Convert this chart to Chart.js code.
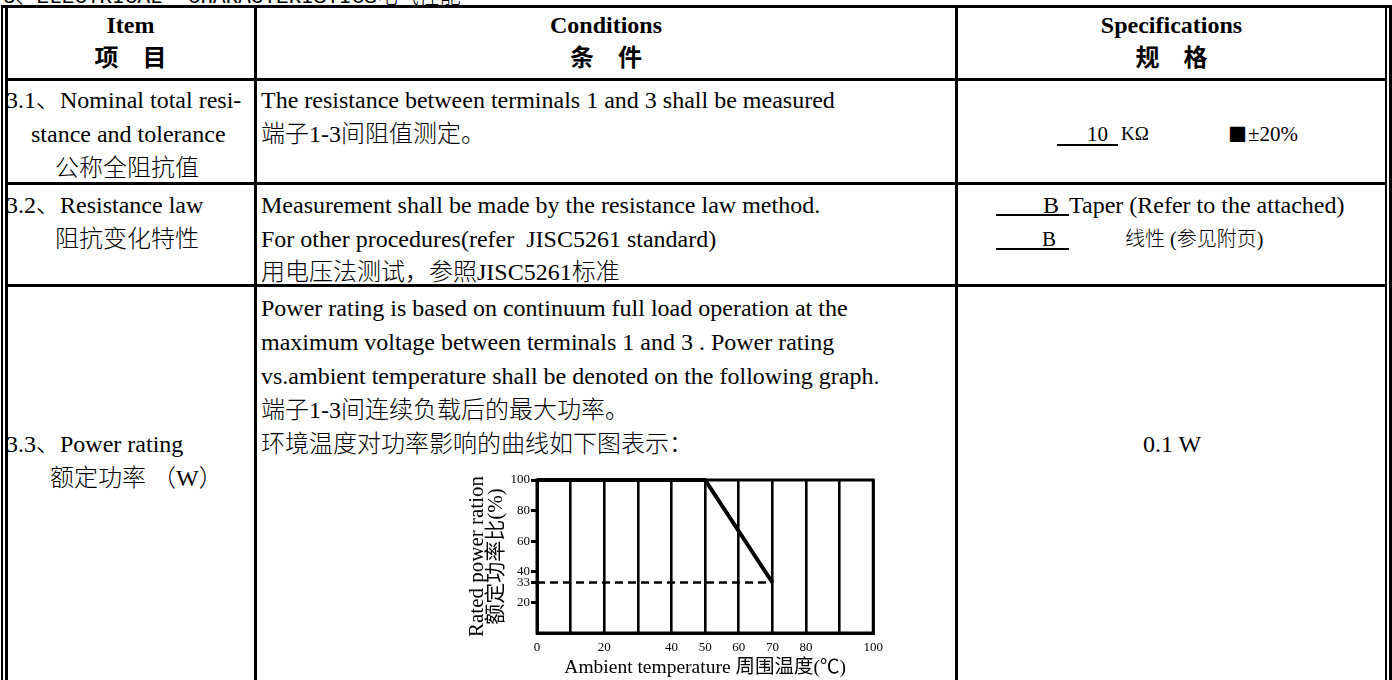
<!DOCTYPE html>
<html><head><meta charset="utf-8">
<script src="https://cdn.jsdelivr.net/npm/chart.js@4"></script>
<style>
html,body{margin:0;padding:0;background:#fff;}
body{width:1392px;height:680px;position:relative;overflow:hidden;font-family:"Liberation Serif","Noto Sans CJK SC",serif;font-size:24px;color:#000;}
.t{position:absolute;white-space:pre;line-height:34px;height:34px;font-weight:300;}
.c1{left:7px;width:247px;text-align:center;}
.c2{left:257px;width:698px;text-align:center;}
.c3{left:958px;width:427px;text-align:center;}
.b{font-weight:bold;}
.k{position:absolute;background:#000;}
.mono{font-family:"Liberation Mono","Noto Sans CJK SC",monospace;}
.cjk{font-family:"Noto Sans CJK SC",sans-serif;}
.ul{position:absolute;height:1.5px;background:#000;}
#chartBox{position:absolute;left:460px;top:466px;width:430px;height:214px;}
</style></head><body>

<div class="t mono" style="left:3px;top:-17px;font-size:21px;line-height:30px;height:30px;">3、ELECTRICAL  CHARACTERISTICS电气性能</div>

<!-- borders -->
<div class="k" style="left:1px;top:5px;width:1.5px;height:675px;"></div>
<div class="k" style="left:5px;top:5px;width:2.5px;height:675px;"></div>
<div class="k" style="left:1385px;top:5px;width:2px;height:675px;"></div>
<div class="k" style="left:1389px;top:5px;width:3px;height:675px;"></div>
<div class="k" style="left:1px;top:5px;width:1391px;height:2.5px;"></div>
<div class="k" style="left:7px;top:78px;width:1379px;height:3px;"></div>
<div class="k" style="left:7px;top:182px;width:1379px;height:3px;"></div>
<div class="k" style="left:7px;top:284px;width:1379px;height:3px;"></div>
<div class="k" style="left:254px;top:5px;width:3px;height:675px;"></div>
<div class="k" style="left:955px;top:5px;width:3px;height:675px;"></div>

<!-- header -->
<div class="t c1 b" style="top:8px;">Item</div>
<div class="t c1 b" style="top:41px;">项　目</div>
<div class="t c2 b" style="top:8px;">Conditions</div>
<div class="t c2 b" style="top:41px;">条　件</div>
<div class="t c3 b" style="top:8px;">Specifications</div>
<div class="t c3 b" style="top:41px;">规　格</div>

<!-- row 3.1 -->
<div class="t" style="left:6px;top:83px;">3.1、Nominal total resi-</div>
<div class="t" style="left:31px;top:117px;">stance and tolerance</div>
<div class="t" style="left:55px;top:151px;">公称全阻抗值</div>
<div class="t" style="left:261px;top:83px;">The resistance between terminals 1 and 3 shall be measured</div>
<div class="t" style="left:261px;top:117px;">端子1-3间阻值测定。</div>
<div class="ul" style="left:1057px;top:144px;width:61px;"></div>
<div class="t" style="left:1087px;top:117px;font-size:21px;">10</div>
<div class="t" style="left:1121px;top:117px;font-size:19px;">KΩ</div>
<div class="t cjk" style="left:1228px;top:117px;font-size:19px;">■</div>
<div class="t" style="left:1248px;top:117px;font-size:21px;">±20%</div>

<!-- row 3.2 -->
<div class="t" style="left:6px;top:188px;">3.2、Resistance law</div>
<div class="t" style="left:55px;top:222px;">阻抗变化特性</div>
<div class="t" style="left:261px;top:188px;">Measurement shall be made by the resistance law method.</div>
<div class="t" style="left:261px;top:222px;">For other procedures(refer  JISC5261 standard)</div>
<div class="t" style="left:261px;top:255px;">用电压法测试，参照JISC5261标准</div>
<div class="ul" style="left:996px;top:214px;width:73px;"></div>
<div class="t" style="left:1043px;top:188px;">B</div>
<div class="t" style="left:1069px;top:188px;">Taper (Refer to the attached)</div>
<div class="ul" style="left:996px;top:248px;width:73px;"></div>
<div class="t" style="left:1042px;top:222px;font-size:21px;">B</div>
<div class="t" style="left:1125px;top:222px;font-size:20px;">线性 (参见附页)</div>

<!-- row 3.3 -->
<div class="t" style="left:261px;top:291px;">Power rating is based on continuum full load operation at the</div>
<div class="t" style="left:261px;top:325px;">maximum voltage between terminals 1 and 3 . Power rating</div>
<div class="t" style="left:261px;top:359px;">vs.ambient temperature shall be denoted on the following graph.</div>
<div class="t" style="left:261px;top:393px;">端子1-3间连续负载后的最大功率。</div>
<div class="t" style="left:261px;top:427px;">环境温度对功率影响的曲线如下图表示：</div>
<div class="t" style="left:6px;top:427px;">3.3、Power rating</div>
<div class="t" style="left:50px;top:461px;">额定功率 （W）</div>
<div class="t" style="left:1143px;top:427px;">0.1 W</div>

<div id="chartBox"><canvas id="c" width="430" height="214"></canvas></div>

<script>
// ---- chart data ----
const curveTemps = [0, 50, 70];
const curvePower = [100, 100, 33];
const minLineTemps = [0, 70];
const minLinePower = [33, 33];
const xTickLabels = [0, 20, 40, 50, 60, 70, 80, 100];
const yTickValues = [20, 33, 40, 60, 80, 100];
const xTitle = 'Ambient temperature 周围温度(℃)';
const yTitle = ['Rated power ration', '额定功率比(%)'];

const frame = {
  id: 'frame',
  beforeDatasetsDraw(chart) {
    const a = chart.chartArea, ctx = chart.ctx;
    ctx.save();
    ctx.strokeStyle = '#000';
    ctx.lineWidth = 3;
    ctx.strokeRect(a.left, a.top, a.right - a.left, a.bottom - a.top);
    ctx.restore();
  }
};

new Chart(document.getElementById('c'), {
  type: 'line',
  data: {
    datasets: [
      {
        data: curveTemps.map((t, i) => ({x: t, y: curvePower[i]})),
        borderColor: '#000', borderWidth: 4, pointRadius: 0, tension: 0, clip: false
      },
      {
        data: minLineTemps.map((t, i) => ({x: t, y: minLinePower[i]})),
        borderColor: '#000', borderWidth: 2.5, borderDash: [8, 5], pointRadius: 0, tension: 0, clip: false
      }
    ]
  },
  options: {
    responsive: false,
    animation: false,
    events: [],
    layout: {padding: {top: 14, right: 15, left: 0, bottom: 0}},
    plugins: {legend: {display: false}, tooltip: {enabled: false}},
    scales: {
      x: {
        type: 'linear', min: 0, max: 100,
        ticks: {
          stepSize: 10, autoSkip: false, maxRotation: 0, padding: 7, color: '#000',
          font: {family: 'Liberation Serif', size: 13},
          callback: v => xTickLabels.includes(v) ? String(v) : ''
        },
        grid: {color: '#000', lineWidth: 2.6, drawTicks: false},
        border: {color: '#000', width: 3},
        title: {display: true, text: xTitle, color: '#000',
          font: {family: 'Liberation Serif, Noto Sans CJK SC', size: 19.5, lineHeight: 1.2}, padding: {top: 0, bottom: 0}},
        afterFit: s => { s.height = 47; }
      },
      y: {
        min: 0, max: 100,
        afterBuildTicks: a => { a.ticks = yTickValues.map(v => ({value: v})); },
        ticks: {color: '#000', padding: 1, font: {family: 'Liberation Serif', size: 13}},
        grid: {drawOnChartArea: false, drawTicks: true, tickLength: 6, tickWidth: 3, tickColor: '#000'},
        border: {color: '#000', width: 3},
        title: {display: true, text: yTitle, color: '#000',
          font: {family: 'Liberation Serif, Noto Sans CJK SC', size: 21, lineHeight: 0.9}, padding: {top: 8, bottom: 0}},
        afterFit: s => { s.width = 77; }
      }
    }
  },
  plugins: [frame]
});
</script>
</body></html>
